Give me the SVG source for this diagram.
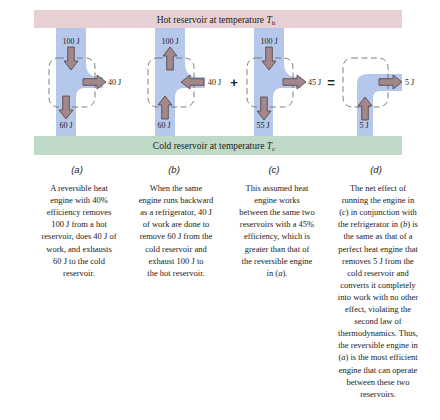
<svg xmlns="http://www.w3.org/2000/svg" xmlns:xlink="http://www.w3.org/1999/xlink" width="440" height="420" viewBox="0 0 440 420">
<style>
.hot{fill:#e7d0d4}
.cold{fill:#bfd9c6}
.flow{fill:#b5c8eb}
.box{fill:none;stroke:#707070;stroke-width:0.9;stroke-dasharray:6,3.5}
.arr{fill:#a3878b;stroke:#4e3f42;stroke-width:0.8}
.res{font-family:"Liberation Serif","DejaVu Serif",serif;font-size:9.5px;fill:#222}
.lbl{font-family:"Liberation Serif","DejaVu Serif",serif;font-size:8px;fill:#222}
.op{font-family:"Liberation Sans","DejaVu Sans",sans-serif;font-size:13px;font-weight:bold;fill:#222}
.tag{font-family:"Liberation Sans","DejaVu Sans",sans-serif;font-size:9.5px;font-style:italic;fill:#222;text-anchor:middle}
.cap{font-family:"Liberation Serif","DejaVu Serif",serif;font-size:8.5px;fill:#222;text-anchor:middle}
.it{font-style:italic}
</style>
<defs>
<path id="arrow" d="M-23,-3.3 H-9 V-7 L0,0 L-9,7 V3.3 H-23 Z"/>
</defs>
<rect width="440" height="420" fill="#fff"/>
<g id="hot-reservoir">
<rect class="hot" x="34" y="10" width="368" height="18"/>
<text class="res" x="216" y="22.5" text-anchor="middle">Hot reservoir at temperature <tspan class="it">T</tspan><tspan font-size="7" dy="2">h</tspan></text>
</g>
<g id="cold-reservoir">
<rect class="cold" x="34" y="136" width="368" height="19"/>
<text class="res" x="214" y="149" text-anchor="middle">Cold reservoir at temperature <tspan class="it">T</tspan><tspan font-size="7" dy="2">c</tspan></text>
</g>
<g id="engine-a">
<path class="flow" d="M56,28 H86 V63 Q86,77 99,77 H103 V88 H85 Q76,88 76,97 V136 H56 Z"/>
<rect class="box" x="49" y="58" width="46" height="49" rx="9"/>
<use class="arr" xlink:href="#arrow" href="#arrow" transform="translate(71,70) rotate(90)"/>
<use class="arr" xlink:href="#arrow" href="#arrow" transform="translate(106,82)"/>
<use class="arr" xlink:href="#arrow" href="#arrow" transform="translate(66,119) rotate(90)"/>
<text class="lbl" x="71" y="44" text-anchor="middle">100 J</text>
<text class="lbl" x="108" y="85">40 J</text>
<text class="lbl" x="66" y="127.5" text-anchor="middle">60 J</text>
</g>
<g id="engine-b">
<path class="flow" d="M155,28 H185 V63 Q185,77 198,77 H205 V88 H184 Q175,88 175,97 V136 H155 Z"/>
<rect class="box" x="148" y="58" width="46" height="49" rx="9"/>
<use class="arr" xlink:href="#arrow" href="#arrow" transform="translate(170,47) rotate(-90)"/>
<use class="arr" xlink:href="#arrow" href="#arrow" transform="translate(181,82) rotate(180)"/>
<use class="arr" xlink:href="#arrow" href="#arrow" transform="translate(165,96) rotate(-90)"/>
<text class="lbl" x="170" y="44" text-anchor="middle">100 J</text>
<text class="lbl" x="208" y="85">40 J</text>
<text class="lbl" x="164" y="127.5" text-anchor="middle">60 J</text>
</g>
<g id="engine-c">
<path class="flow" d="M254,28 H284 V63 Q284,77 297,77 H301 V88 H282 Q273,88 273,97 V136 H254 Z"/>
<rect class="box" x="247" y="58" width="46" height="49" rx="9"/>
<use class="arr" xlink:href="#arrow" href="#arrow" transform="translate(269,70) rotate(90)"/>
<use class="arr" xlink:href="#arrow" href="#arrow" transform="translate(306,82)"/>
<use class="arr" xlink:href="#arrow" href="#arrow" transform="translate(264,120) rotate(90)"/>
<text class="lbl" x="269" y="44" text-anchor="middle">100 J</text>
<text class="lbl" x="308" y="85">45 J</text>
<text class="lbl" x="263" y="128" text-anchor="middle">55 J</text>
</g>
<g id="engine-d">
<path class="flow" d="M357,136 V84 Q357,74 367,74 H402 V91 H380 Q373,91 373,98 V136 Z"/>
<rect class="box" x="343" y="58" width="45" height="49" rx="9"/>
<use class="arr" xlink:href="#arrow" href="#arrow" transform="translate(402,82)"/>
<use class="arr" xlink:href="#arrow" href="#arrow" transform="translate(365,97) rotate(-90)"/>
<text class="lbl" x="405" y="85">5 J</text>
<text class="lbl" x="364" y="128" text-anchor="middle">5 J</text>
</g>
<g id="operators">
<text class="op" x="234" y="86.5" text-anchor="middle">+</text>
<text class="op" x="331" y="86.5" text-anchor="middle">=</text>
</g>
<g id="tags">
<text class="tag" x="77" y="172.5">(a)</text>
<text class="tag" x="174" y="172.5">(b)</text>
<text class="tag" x="274" y="172.5">(c)</text>
<text class="tag" x="376" y="172.5">(d)</text>
</g>
<g id="caption-a">
<text class="cap" x="79" y="191">A reversible heat</text>
<text class="cap" x="79" y="203.1">engine with 40%</text>
<text class="cap" x="79" y="215.2">efficiency removes</text>
<text class="cap" x="79" y="227.3">100 J from a hot</text>
<text class="cap" x="79" y="239.4">reservoir, does 40 J of</text>
<text class="cap" x="79" y="251.5">work, and exhausts</text>
<text class="cap" x="79" y="263.6">60 J to the cold</text>
<text class="cap" x="79" y="275.7">reservoir.</text>
</g>
<g id="caption-b">
<text class="cap" x="176" y="191">When the same</text>
<text class="cap" x="176" y="203.1">engine runs backward</text>
<text class="cap" x="176" y="215.2">as a refrigerator, 40 J</text>
<text class="cap" x="176" y="227.3">of work are done to</text>
<text class="cap" x="176" y="239.4">remove 60 J from the</text>
<text class="cap" x="176" y="251.5">cold reservoir and</text>
<text class="cap" x="176" y="263.6">exhaust 100 J to</text>
<text class="cap" x="176" y="275.7">the hot reservoir.</text>
</g>
<g id="caption-c">
<text class="cap" x="277" y="191">This assumed heat</text>
<text class="cap" x="277" y="203.1">engine works</text>
<text class="cap" x="277" y="215.2">between the same two</text>
<text class="cap" x="277" y="227.3">reservoirs with a 45%</text>
<text class="cap" x="277" y="239.4">efficiency, which is</text>
<text class="cap" x="277" y="251.5">greater than that of</text>
<text class="cap" x="277" y="263.6">the reversible engine</text>
<text class="cap" x="277" y="275.7">in (<tspan class="it">a</tspan>).</text>
</g>
<g id="caption-d">
<text class="cap" x="378" y="191">The net effect of</text>
<text class="cap" x="378" y="203.1">running the engine in</text>
<text class="cap" x="378" y="215.2">(<tspan class="it">c</tspan>) in conjunction with</text>
<text class="cap" x="378" y="227.3">the refrigerator in (<tspan class="it">b</tspan>) is</text>
<text class="cap" x="378" y="239.4">the same as that of a</text>
<text class="cap" x="378" y="251.5">perfect heat engine that</text>
<text class="cap" x="378" y="263.6">removes 5 J from the</text>
<text class="cap" x="378" y="275.7">cold reservoir and</text>
<text class="cap" x="378" y="287.8">converts it completely</text>
<text class="cap" x="378" y="299.9">into work with no other</text>
<text class="cap" x="378" y="312">effect, violating the</text>
<text class="cap" x="378" y="324.1">second law of</text>
<text class="cap" x="378" y="336.2">thermodynamics. Thus,</text>
<text class="cap" x="378" y="348.3">the reversible engine in</text>
<text class="cap" x="378" y="360.4">(<tspan class="it">a</tspan>) is the most efficient</text>
<text class="cap" x="378" y="372.5">engine that can operate</text>
<text class="cap" x="378" y="384.6">between these two</text>
<text class="cap" x="378" y="396.7">reservoirs.</text>
</g>
</svg>
